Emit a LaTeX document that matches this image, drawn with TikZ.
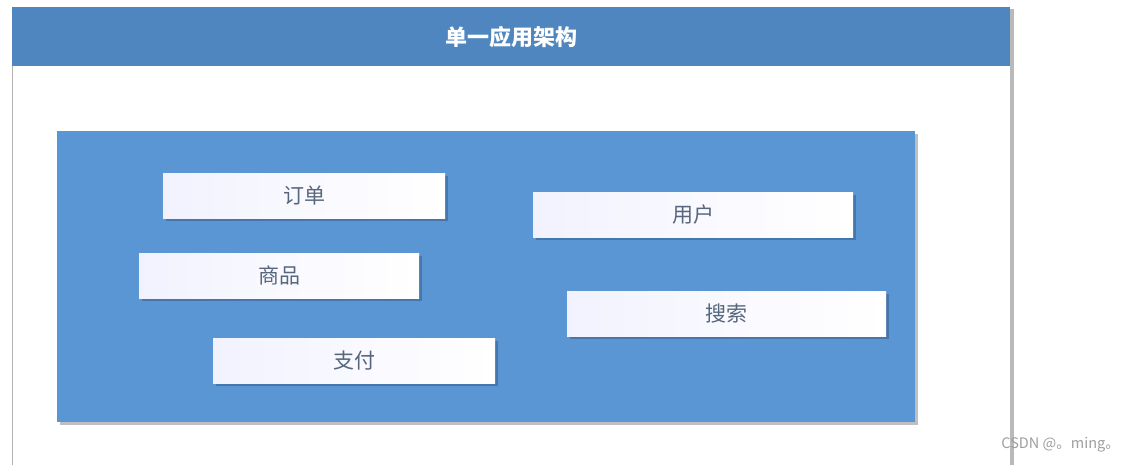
\documentclass[tikz,border=0pt]{standalone}
\usepackage{fontspec}
\setmainfont{Noto Sans CJK SC}
\newfontfamily\wmfont{Noto Sans CJK SC}
\usetikzlibrary{shadows}
\definecolor{hdrblue}{HTML}{4F86C0}
\definecolor{panelblue}{HTML}{5B96D4}
\definecolor{boxtext}{HTML}{56667C}
\definecolor{shadowblue}{HTML}{3E6A9C}
\tikzset{
  modbox/.style={draw=none, fill=white, left color=white!95!blue, right color=white,
    inner sep=0pt, anchor=north west, text=boxtext, font=\fontsize{21}{21}\selectfont,
    drop shadow={shadow xshift=3pt, shadow yshift=-3pt, fill=shadowblue, opacity=0.7}},
  wm/.style={text=gray!75, font=\wmfont\fontsize{14.5}{14.5}\selectfont, anchor=east, inner sep=0pt}
}
\begin{document}
\begin{tikzpicture}[x=1pt,y=-1pt]
\useasboundingbox (0,0) rectangle (1125,465);
\fill[white] (0,0) rectangle (1125,465);
% outer frame
\fill[gray!55] (1010,9) rectangle (1014,465);
\draw[gray!60, line width=0.8pt] (12,7) -- (12,465);
\node[fill=hdrblue, minimum width=998pt, minimum height=59pt, inner sep=0pt, anchor=north west,
  text=white, font=\fontsize{22}{22}\selectfont\bfseries] (hdr) at (12,7) {单一应用架构};
% inner panel
\node[fill=panelblue, minimum width=858pt, minimum height=291pt, inner sep=0pt, anchor=north west,
  drop shadow={shadow xshift=3pt, shadow yshift=-3pt, fill=gray, opacity=0.5}] (panel) at (57,131) {};
% modules
\node[modbox, minimum width=282pt, minimum height=45pt] (dingdan) at (163,173) {订单};
\node[modbox, minimum width=280pt, minimum height=45pt] (shangpin) at (139,253) {商品};
\node[modbox, minimum width=282pt, minimum height=45pt] (zhifu) at (213,338) {支付};
\node[modbox, minimum width=320pt, minimum height=45pt] (yonghu) at (533,192) {用户};
\node[modbox, minimum width=319pt, minimum height=45pt] (sousuo) at (567,291) {搜索};
\node[wm] (wmark) at (1120,445) {CSDN @。ming。};
\end{tikzpicture}
\end{document}
